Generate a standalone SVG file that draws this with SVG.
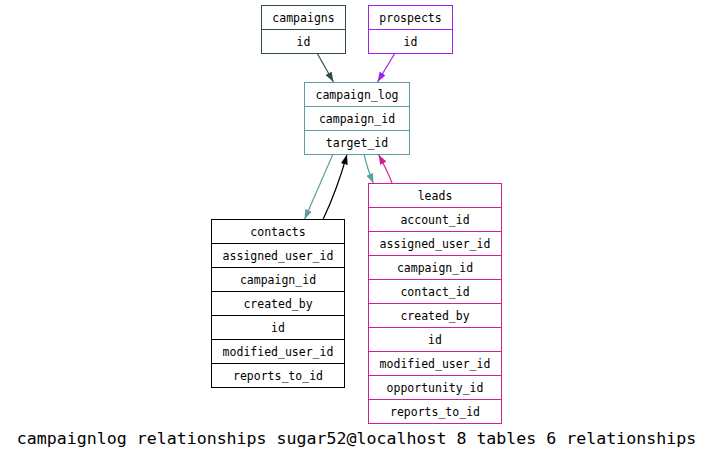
<svg xmlns="http://www.w3.org/2000/svg" width="712" height="459" viewBox="0 0 712 459">
<style>
  text { font-family: "DejaVu Sans Mono", "Liberation Mono", monospace; font-size: 11.5px; fill: #000; text-anchor: middle; }
  .title { font-size: 16.6px; }
  .box { fill: #fff; stroke-width: 1; }
  .div { stroke-width: 1; fill: none; }
  .edge { fill: none; stroke-width: 1.2; }
</style>
<defs>
  <marker id="a-dsg" viewBox="0 0 10 7" refX="10" refY="3.5" markerWidth="10" markerHeight="7" markerUnits="userSpaceOnUse" orient="auto"><path d="M0,0 L10,3.5 L0,7 z" fill="#2f4f4f"/></marker>
  <marker id="a-pur" viewBox="0 0 10 7" refX="10" refY="3.5" markerWidth="10" markerHeight="7" markerUnits="userSpaceOnUse" orient="auto"><path d="M0,0 L10,3.5 L0,7 z" fill="#a020f0"/></marker>
  <marker id="a-cad" viewBox="0 0 10 7" refX="10" refY="3.5" markerWidth="10" markerHeight="7" markerUnits="userSpaceOnUse" orient="auto"><path d="M0,0 L10,3.5 L0,7 z" fill="#5f9ea0"/></marker>
  <marker id="a-blk" viewBox="0 0 10 7" refX="10" refY="3.5" markerWidth="10" markerHeight="7" markerUnits="userSpaceOnUse" orient="auto"><path d="M0,0 L10,3.5 L0,7 z" fill="#000"/></marker>
  <marker id="a-vr" viewBox="0 0 10 7" refX="10" refY="3.5" markerWidth="10" markerHeight="7" markerUnits="userSpaceOnUse" orient="auto"><path d="M0,0 L10,3.5 L0,7 z" fill="#d02090"/></marker>
</defs>
<rect width="712" height="459" fill="#fff"/>

<g id="connectors">
  <path class="edge" stroke="#2f4f4f" d="M317,53 L333.5,82" marker-end="url(#a-dsg)"/>
  <path class="edge" stroke="#a020f0" d="M395,53 L377.5,82" marker-end="url(#a-pur)"/>
  <path class="edge" stroke="#5f9ea0" d="M333,154 L304.5,219.5" marker-end="url(#a-cad)"/>
  <path class="edge" stroke="#000" d="M323,219.5 Q337,190 347,154.5" marker-end="url(#a-blk)"/>
  <path class="edge" stroke="#5f9ea0" d="M364,154 Q367,168 373.5,183.5" marker-end="url(#a-cad)"/>
  <path class="edge" stroke="#d02090" d="M392,183 Q387,170 378.5,154.5" marker-end="url(#a-vr)"/>
</g>

<g id="campaigns">
  <rect class="box" stroke="#2f4f4f" x="261.5" y="5.5" width="84" height="48"/>
  <line class="div" stroke="#2f4f4f" x1="261.5" y1="29.5" x2="345.5" y2="29.5"/>
  <text x="303.5" y="21.5">campaigns</text>
  <text x="303.5" y="45.5">id</text>
</g>

<g id="prospects">
  <rect class="box" stroke="#a020f0" x="368.5" y="5.5" width="84" height="48"/>
  <line class="div" stroke="#a020f0" x1="368.5" y1="29.5" x2="452.5" y2="29.5"/>
  <text x="410.5" y="21.5">prospects</text>
  <text x="410.5" y="45.5">id</text>
</g>

<g id="campaign_log">
  <rect class="box" stroke="#5f9ea0" x="304.5" y="82.5" width="105" height="72"/>
  <line class="div" stroke="#5f9ea0" x1="304.5" y1="106.5" x2="409.5" y2="106.5"/>
  <line class="div" stroke="#5f9ea0" x1="304.5" y1="130.5" x2="409.5" y2="130.5"/>
  <text x="357" y="98.5">campaign_log</text>
  <text x="357" y="122.5">campaign_id</text>
  <text x="357" y="146.5">target_id</text>
</g>

<g id="contacts">
  <rect class="box" stroke="#000" x="211.5" y="219.5" width="133" height="168"/>
  <line class="div" stroke="#000" x1="211.5" y1="243.5" x2="344.5" y2="243.5"/>
  <line class="div" stroke="#000" x1="211.5" y1="267.5" x2="344.5" y2="267.5"/>
  <line class="div" stroke="#000" x1="211.5" y1="291.5" x2="344.5" y2="291.5"/>
  <line class="div" stroke="#000" x1="211.5" y1="315.5" x2="344.5" y2="315.5"/>
  <line class="div" stroke="#000" x1="211.5" y1="339.5" x2="344.5" y2="339.5"/>
  <line class="div" stroke="#000" x1="211.5" y1="363.5" x2="344.5" y2="363.5"/>
  <text x="278" y="235.5">contacts</text>
  <text x="278" y="259.5">assigned_user_id</text>
  <text x="278" y="283.5">campaign_id</text>
  <text x="278" y="307.5">created_by</text>
  <text x="278" y="331.5">id</text>
  <text x="278" y="355.5">modified_user_id</text>
  <text x="278" y="379.5">reports_to_id</text>
</g>

<g id="leads">
  <rect class="box" stroke="#d02090" x="368.5" y="183.5" width="133" height="240"/>
  <line class="div" stroke="#d02090" x1="368.5" y1="207.5" x2="501.5" y2="207.5"/>
  <line class="div" stroke="#d02090" x1="368.5" y1="231.5" x2="501.5" y2="231.5"/>
  <line class="div" stroke="#d02090" x1="368.5" y1="255.5" x2="501.5" y2="255.5"/>
  <line class="div" stroke="#d02090" x1="368.5" y1="279.5" x2="501.5" y2="279.5"/>
  <line class="div" stroke="#d02090" x1="368.5" y1="303.5" x2="501.5" y2="303.5"/>
  <line class="div" stroke="#d02090" x1="368.5" y1="327.5" x2="501.5" y2="327.5"/>
  <line class="div" stroke="#d02090" x1="368.5" y1="351.5" x2="501.5" y2="351.5"/>
  <line class="div" stroke="#d02090" x1="368.5" y1="375.5" x2="501.5" y2="375.5"/>
  <line class="div" stroke="#d02090" x1="368.5" y1="399.5" x2="501.5" y2="399.5"/>
  <text x="435" y="199.5">leads</text>
  <text x="435" y="223.5">account_id</text>
  <text x="435" y="247.5">assigned_user_id</text>
  <text x="435" y="271.5">campaign_id</text>
  <text x="435" y="295.5">contact_id</text>
  <text x="435" y="319.5">created_by</text>
  <text x="435" y="343.5">id</text>
  <text x="435" y="367.5">modified_user_id</text>
  <text x="435" y="391.5">opportunity_id</text>
  <text x="435" y="415.5">reports_to_id</text>
</g>

<text class="title" x="356.5" y="444">campaignlog relationships sugar52@localhost 8 tables 6 relationships</text>
</svg>
